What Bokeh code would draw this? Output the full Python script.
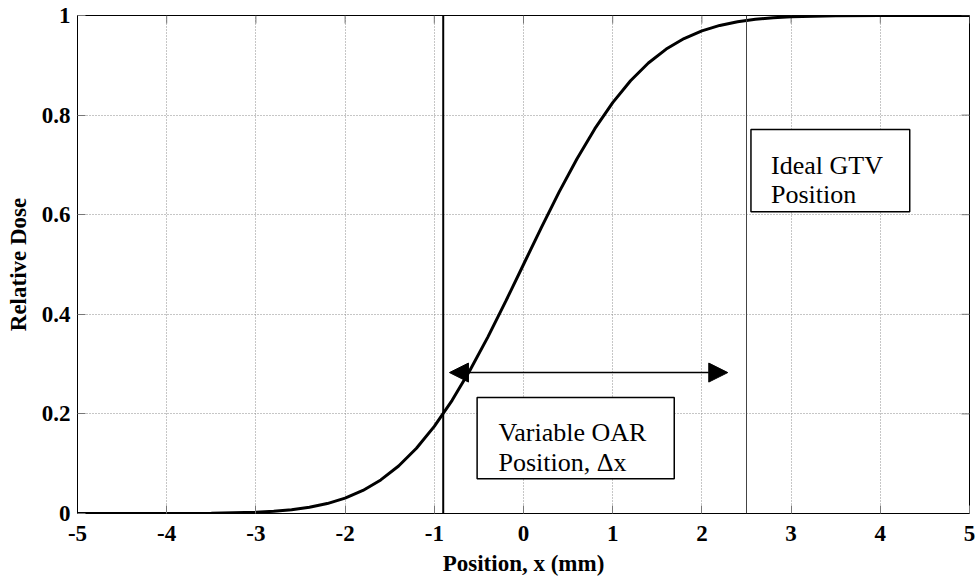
from bokeh.plotting import figure
from bokeh.models import Span, Arrow, NormalHead, Label, FixedTicker, ColumnDataSource
from bokeh.embed import file_html
from bokeh.resources import INLINE

# ---- data ----
position = [-5.0, -4.5, -4.0, -3.5, -3.0, -2.8, -2.6, -2.4, -2.2, -2.0, -1.8, -1.6, -1.4, -1.2,
            -1.0, -0.8, -0.6, -0.4, -0.2, 0.0, 0.2, 0.4, 0.6, 0.8, 1.0, 1.2, 1.4, 1.6, 1.8,
            2.0, 2.2, 2.4, 2.6, 2.8, 3.0, 3.5, 4.0, 4.5, 5.0]
relative_dose = [0.000, 0.000, 0.0001, 0.0005, 0.0025, 0.0044, 0.0075, 0.0125, 0.0199, 0.0308,
                 0.0463, 0.0674, 0.0954, 0.1311, 0.1750, 0.2273, 0.2875, 0.3542, 0.4258, 0.5000,
                 0.5742, 0.6458, 0.7125, 0.7727, 0.8250, 0.8689, 0.9046, 0.9326, 0.9537, 0.9692,
                 0.9801, 0.9875, 0.9925, 0.9956, 0.9975, 0.9995, 0.9999, 1.000, 1.000]

x_ticks = [-5, -4, -3, -2, -1, 0, 1, 2, 3, 4, 5]
x_tick_labels = ["-5", "-4", "-3", "-2", "-1", "0", "1", "2", "3", "4", "5"]
y_ticks = [0.0, 0.2, 0.4, 0.6, 0.8, 1.0]
y_tick_labels = ["0", "0.2", "0.4", "0.6", "0.8", "1"]

oar_position = -0.9      # variable OAR position line
gtv_position = 2.5       # ideal GTV position line
arrow_range = [-0.83, 2.29]
arrow_level = 0.283

SERIF = "Liberation Serif"

p = figure(width=976, height=582, x_range=(-5, 5), y_range=(0, 1),
           output_backend="svg", toolbar_location=None,
           min_border_left=77, min_border_right=7, min_border_top=15, min_border_bottom=69,
           background_fill_color="white", border_fill_color="white")

# grid
for g in (p.xgrid, p.ygrid):
    g.grid_line_color = "#8c8c8c"
    g.grid_line_dash = "1 2"
    g.grid_line_width = 1
p.xgrid.ticker = FixedTicker(ticks=x_ticks)
p.ygrid.ticker = FixedTicker(ticks=y_ticks)

# axes
p.xaxis.ticker = FixedTicker(ticks=x_ticks)
p.yaxis.ticker = FixedTicker(ticks=y_ticks)
p.xaxis.major_label_overrides = {t: s for t, s in zip(x_ticks, x_tick_labels)}
p.yaxis.major_label_overrides = {t: s for t, s in zip(y_ticks, y_tick_labels)}
p.xaxis.axis_label = "Position, x (mm)"
p.yaxis.axis_label = "Relative Dose"
for ax in (p.xaxis, p.yaxis):
    ax.major_label_text_font = SERIF
    ax.major_label_text_font_style = "bold"
    ax.major_label_text_font_size = "23px"
    ax.major_label_text_color = "black"
    ax.axis_label_text_font = SERIF
    ax.axis_label_text_font_style = "bold"
    ax.axis_label_text_font_size = "23px"
    ax.axis_label_text_color = "black"
    ax.major_tick_in = 8
    ax.major_tick_out = 0
    ax.minor_tick_in = 0
    ax.minor_tick_out = 0
    ax.major_tick_line_color = "#777777"
    ax.axis_line_color = "black"
p.xaxis.major_label_standoff = 12
p.yaxis.major_label_standoff = 7
p.xaxis.axis_label_standoff = 7
p.yaxis.axis_label_standoff = 8
p.outline_line_color = "black"
p.outline_line_width = 1

# inward tick marks on the top and right edges (8 px long)
p.segment(x0=x_ticks, y0=[1.0] * len(x_ticks), x1=x_ticks, y1=[1.0 - 8 / 498] * len(x_ticks),
          line_color="#777777", line_width=1)
p.segment(x0=[5.0] * len(y_ticks), y0=y_ticks, x1=[5.0 - 8 / 89] * len(y_ticks), y1=y_ticks,
          line_color="#777777", line_width=1)

# annotation boxes
p.quad(left=[-0.52], right=[1.69], bottom=[0.070], top=[0.233],
       fill_color="white", line_color="black", line_width=1.5)
p.quad(left=[2.55], right=[4.33], bottom=[0.606], top=[0.771],
       fill_color="white", line_color="black", line_width=1.5)

# vertical position lines
p.add_layout(Span(location=oar_position, dimension="height", line_color="black", line_width=2))
p.add_layout(Span(location=gtv_position, dimension="height", line_color="#444444", line_width=1))

# dose curve
src = ColumnDataSource(dict(x=position, y=relative_dose))
p.line("x", "y", source=src, line_color="black", line_width=3)

# double-headed arrow
p.add_layout(Arrow(x_start=arrow_range[0], x_end=arrow_range[1], y_start=arrow_level, y_end=arrow_level,
                   start=NormalHead(size=19, fill_color="black", line_color="black"),
                   end=NormalHead(size=19, fill_color="black", line_color="black"),
                   line_color="black", line_width=1.5))

# texts
for txt, xx, yy in [("Variable OAR", -0.281, 0.1627), ("Position, \u0394x", -0.281, 0.1024),
                    ("Ideal GTV", 2.775, 0.6988), ("Position", 2.775, 0.6406)]:
    p.add_layout(Label(x=xx, y=yy, text=txt, text_font=SERIF, text_font_size="26px",
                       text_color="black", text_baseline="alphabetic", text_align="left"))

open("out.html", "w").write(file_html(p, INLINE))
